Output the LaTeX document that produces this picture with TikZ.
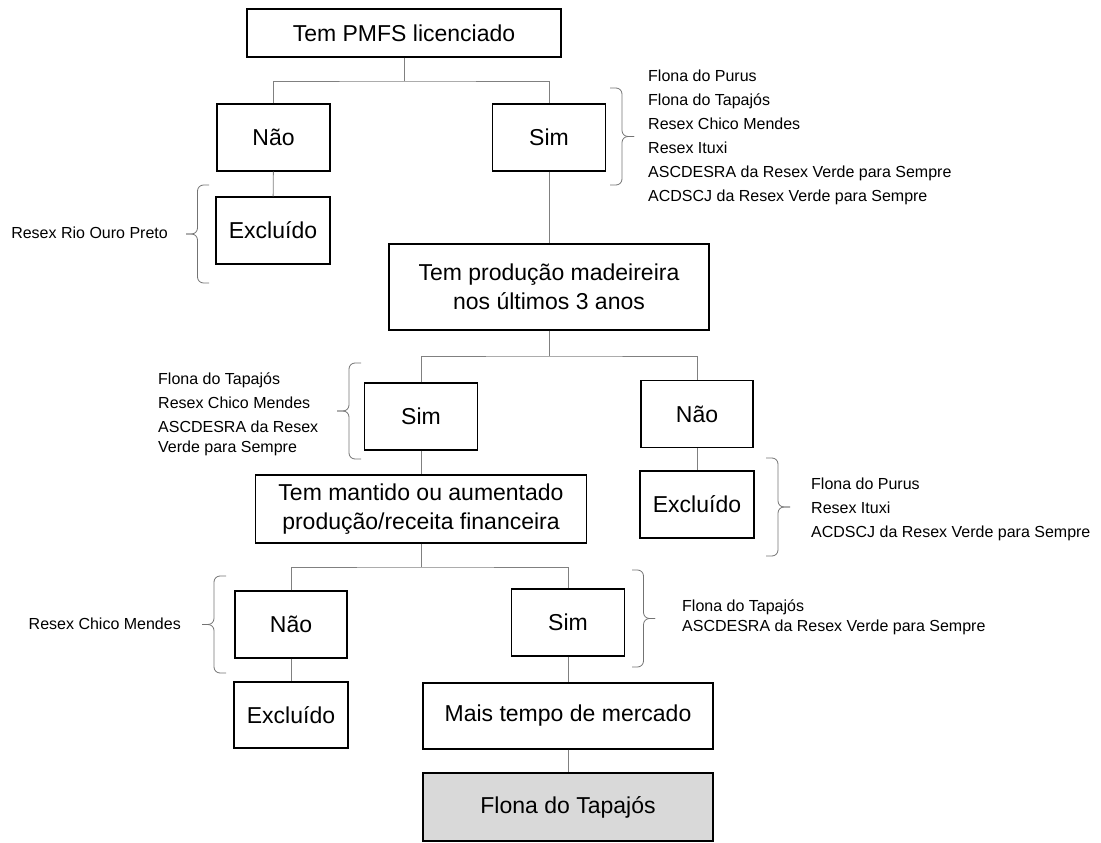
\documentclass[tikz,border=0pt]{standalone}
\usepackage{fontspec}
\setmainfont{Liberation Sans}
% curly bracket: base x, top y, bottom y, signed width
\newcommand{\cbrk}[4]{%
  \draw[brc] (#1,#2) -- ({#1+#4/2},#2) -- ({#1+#4/2},{(#2+#3)/2}) -- ({#1+#4},{(#2+#3)/2});
  \draw[brc] (#1,#3) -- ({#1+#4/2},#3) -- ({#1+#4/2},{(#2+#3)/2}) -- ({#1+#4},{(#2+#3)/2});}
\begin{document}
\begin{tikzpicture}[x=1pt,y=-1pt,
  box/.style={draw=black,line width=1.1pt,fill=white,align=center,inner sep=0pt,
    font=\fontsize{23}{29}\selectfont},
  ln/.style={draw=black!50,line width=0.9pt},
  brc/.style={draw=black!55,line width=0.8pt,rounded corners=6pt},
  lst/.style={font=\fontsize{16}{20}\selectfont,align=left,inner sep=0pt}]
\useasboundingbox (0,0) rectangle (1101,843);
% boxes
\node[box,minimum width=314,minimum height=48] (T) at (404,33) {Tem PMFS licenciado};
\node[box,minimum width=113,minimum height=67] (N1) at (273.5,137.5) {Não};
\node[box,minimum width=113,minimum height=67] (S1) at (549,137.5) {Sim};
\node[box,minimum width=114,minimum height=67] (E1) at (273,230.5) {Excluído};
\node[box,minimum width=320,minimum height=86] (P) at (549,287) {Tem produção madeireira\\nos últimos 3 anos};
\node[box,minimum width=113,minimum height=67] (S2) at (421,416.5) {Sim};
\node[box,minimum width=112,minimum height=67] (N2) at (697,414) {Não};
\node[box,minimum width=114,minimum height=67] (E2) at (697,504.5) {Excluído};
\node[box,minimum width=331,minimum height=68] (M) at (421,509) {Tem mantido ou aumentado\\produção/receita financeira};
\node[box,minimum width=112,minimum height=67] (N3) at (291,624.5) {Não};
\node[box,minimum width=113,minimum height=67] (S3) at (568,622.5) {Sim};
\node[box,minimum width=114,minimum height=66] (E3) at (291,715) {Excluído};
\node[box,minimum width=290,minimum height=66] (MT) at (568,716) {Mais tempo de mercado};
\node[box,minimum width=290,minimum height=68,fill=black!15] (F) at (568,807) {Flona do Tapajós};
% connectors
\coordinate (s1) at (404,81);
\coordinate (s2) at (549,356);
\coordinate (s3) at (421,567);
\draw[ln] (T) -- (s1);
\draw[ln] (N1) |- (s1) -| (S1);
\draw[ln] (N1) -- (E1);
\draw[ln] (S1) -- (P);
\draw[ln] (P) -- (s2);
\draw[ln] (S2) |- (s2) -| (N2);
\draw[ln] (N2) -- (E2);
\draw[ln] (S2) -- (M);
\draw[ln] (M) -- (s3);
\draw[ln] (N3) |- (s3) -| (S3);
\draw[ln] (N3) -- (E3);
\draw[ln] (S3) -- (MT);
\draw[ln] (MT) -- (F);
% braces
\cbrk{209}{185}{283}{-23}
\cbrk{610}{88}{185}{24}
\cbrk{361}{363}{459}{-24}
\cbrk{766}{458}{556}{24}
\cbrk{226}{576}{673}{-24}
\cbrk{632}{570}{667}{23}
% lists
\node[lst,anchor=east] (l1) at (168,233) {Resex Rio Ouro Preto};
\node[lst,anchor=west] (l2) at (648,137.5) {Flona do Purus\\[4pt]Flona do Tapajós\\[4pt]Resex Chico Mendes\\[4pt]Resex Ituxi\\[4pt]ASCDESRA da Resex Verde para Sempre\\[4pt]ACDSCJ da Resex Verde para Sempre};
\node[lst,anchor=west] (l3) at (158,414) {Flona do Tapajós\\[4pt]Resex Chico Mendes\\[4pt]ASCDESRA da Resex\\Verde para Sempre};
\node[lst,anchor=west] (l4) at (811,509.5) {Flona do Purus\\[4pt]Resex Ituxi\\[4pt]ACDSCJ da Resex Verde para Sempre};
\node[lst,anchor=east] (l5) at (181,624) {Resex Chico Mendes};
\node[lst,anchor=west] (l6) at (682,617) {Flona do Tapajós\\ASCDESRA da Resex Verde para Sempre};
\end{tikzpicture}
\end{document}
